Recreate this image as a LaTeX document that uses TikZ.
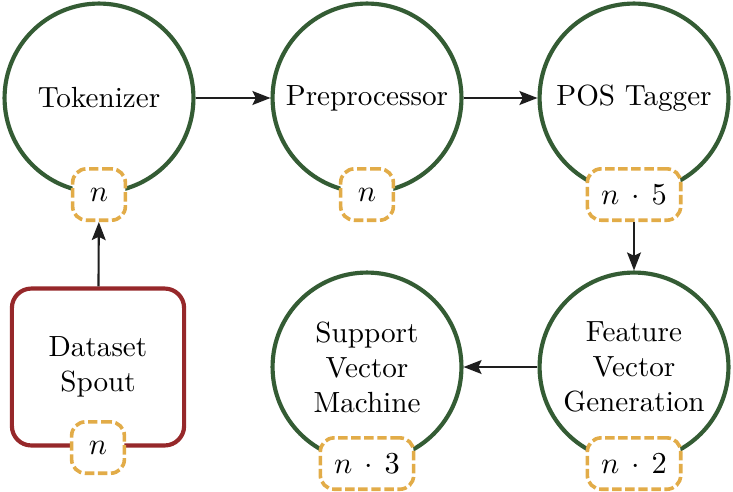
\documentclass[tikz,border=0pt]{standalone}
\usetikzlibrary{arrows.meta,positioning}
\definecolor{cgreen}{RGB}{52,92,52}
\definecolor{cred}{RGB}{150,40,42}
\definecolor{corange}{RGB}{226,172,72}
\definecolor{carrow}{RGB}{30,30,30}
\begin{document}
\begin{tikzpicture}[x=0.36pt,y=-0.36pt,
  every node/.style={font=\fontsize{10.5}{12.6}\selectfont},
  stage/.style={circle,draw=cgreen,line width=1.5pt,minimum size=68pt,inner sep=0pt,align=center,fill=white},
  source/.style={rectangle,rounded corners=7pt,draw=cred,line width=1.5pt,minimum width=62pt,minimum height=56.5pt,align=center,fill=white},
  badge/.style={rectangle,rounded corners=5pt,draw=corange,dash pattern=on 3.4pt off 1.3pt,line width=1.3pt,fill=white,minimum width=19pt,minimum height=18.5pt,inner xsep=5pt},
  flow/.style={-{Stealth[length=6.5pt,width=5pt,inset=1.2pt]},draw=carrow,line width=0.75pt}]
\useasboundingbox (0,0) rectangle (733,491);
\node[stage] (tok) at (99,98) {Tokenizer};
\node[stage] (pre) at (367,98) {Preprocessor};
\node[stage] (pos) at (634,98) {POS Tagger};
\node[stage] (fvg) at (634,367) {Feature\\Vector\\Generation};
\node[stage] (svm) at (367,367) {Support\\Vector\\Machine};
\node[source] (ds) at (98,367) {Dataset\\Spout};
\node[badge] (btok) at (tok.south) {$n$};
\node[badge] (bpre) at (pre.south) {$n$};
\node[badge] (bpos) at (pos.south) {$n\,\cdot\,5$};
\node[badge] (bfvg) at (fvg.south) {$n\,\cdot\,2$};
\node[badge] (bsvm) at (svm.south) {$n\,\cdot\,3$};
\node[badge] (bds) at (ds.south) {$n$};
\draw[flow] (tok) -- (pre);
\draw[flow] (pre) -- (pos);
\draw[flow] (bpos) -- (fvg);
\draw[flow] (fvg) -- (svm);
\draw[flow] (ds) -- (btok);
\end{tikzpicture}
\end{document}
